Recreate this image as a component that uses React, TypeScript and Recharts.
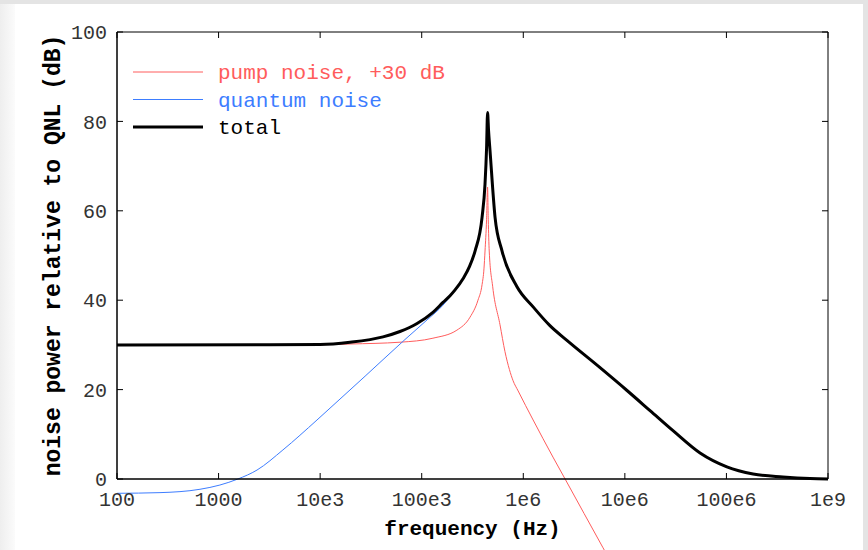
import React from "react";
import { LineChart, Line, XAxis, YAxis, Legend } from "recharts";

// pump noise (+30 dB offset)
const pumpFreq = [100, 1e4, 1.97e4, 6.11e4, 1.29e5, 2.22e5, 2.99e5, 3.58e5, 3.93e5, 4.1e5, 4.2e5, 4.35e5, 4.45e5, 4.52e5, 4.62e5, 5.0e5, 5.9e5, 6.6e5, 7.3e5, 7.93e5, 8.9e5, 1.25e6, 1.96e6, 2.58e6, 6.1e6, 7.48e6];
const pumpDb = [30, 30.05, 30.2, 30.6, 31.5, 33.3, 36.2, 40, 43.5, 47, 51, 58, 65.3, 58, 51, 43, 34.5, 28.5, 24.5, 22, 19.7, 13.2, 4.9, 0, -15.4, -19];

// quantum noise (runs under the total curve after ~2e5 Hz)
const quantumFreq = [100, 265, 656, 1030, 1550, 2390, 4300, 9310, 1.68e4, 2.77e4, 4.16e4, 6.84e4, 1.13e5, 1.62e5, 2.13e5, 2.55e5, 2.95e5, 3.35e5, 3.93e5, 4.2e5, 4.35e5, 4.45e5, 4.55e5, 4.7e5, 5.27e5, 6.18e5, 8.67e5, 1.25e6, 1.83e6, 2.69e6, 5.7e6, 1.05e7, 1.77e7, 2.98e7, 5.5e7, 1.01e8, 1.83e8, 3.6e8, 6.65e8, 1e9];
const quantumDb = [-3.2, -3.05, -2.3, -1.35, 0, 2.0, 6.5, 13.2, 18.5, 23.0, 26.7, 31.2, 35.6, 38.9, 42.3, 44.8, 47.5, 51, 58.6, 66, 74, 82, 78, 73.6, 58.6, 51, 43, 38.5, 34.3, 31.0, 24.9, 19.8, 15.3, 10.8, 5.8, 2.7, 1.1, 0.45, 0.1, 0.02];

// total
const totalFreq = [100, 1e4, 1.97e4, 4.16e4, 6.11e4, 9e4, 1.29e5, 1.62e5, 1.9e5, 2.13e5, 2.55e5, 2.95e5, 3.35e5, 3.93e5, 4.2e5, 4.35e5, 4.45e5, 4.55e5, 4.7e5, 5.27e5, 6.18e5, 8.67e5, 1.25e6, 1.83e6, 2.69e6, 5.7e6, 1.05e7, 1.77e7, 2.98e7, 5.5e7, 1.01e8, 1.83e8, 3.6e8, 6.65e8, 1e9];
const totalDb = [30, 30.1, 30.6, 31.8, 33, 34.8, 37.3, 39.5, 41, 42.3, 44.8, 47.5, 51, 58.6, 66, 74, 82, 78, 73.6, 58.6, 51, 43, 38.5, 34.3, 31.0, 24.9, 19.8, 15.3, 10.8, 5.8, 2.7, 1.1, 0.45, 0.1, 0.02];

const xTicks = [100, 1e3, 1e4, 1e5, 1e6, 1e7, 1e8, 1e9];
const xTickLabels = ["100", "1000", "10e3", "100e3", "1e6", "10e6", "100e6", "1e9"];
const yTicks = [0, 20, 40, 60, 80, 100];

const seriesNames = ["pump noise, +30 dB", "quantum noise", "total"];
const seriesColors = ["#ff5c5c", "#3d7dff", "#000000"];
const seriesWidths = [1, 1, 3];

const FONT = '"Liberation Mono", "Courier New", monospace';

const zip = (fs: number[], vs: number[]) => fs.map((f, i) => ({ f, v: vs[i] }));
const pumpData = zip(pumpFreq, pumpDb);
const quantumData = zip(quantumFreq, quantumDb);
const totalData = zip(totalFreq, totalDb);

const tickStyle = { fontFamily: FONT, fontSize: 20, fill: "#333" };
const axisLine = { stroke: "#000", strokeWidth: 1 };
const noLabel = () => "";

const renderLegend = () => (
  <svg width={330} height={95}>
    {seriesNames.map((name, i) => {
      const y = 22 + i * 27.5;
      return (
        <g key={name}>
          <line x1={0} x2={70} y1={y} y2={y} stroke={seriesColors[i]} strokeWidth={seriesWidths[i]} />
          <text x={85} y={y + 7} fontFamily={FONT} fontSize={21} fill={seriesColors[i]}>
            {name}
          </text>
        </g>
      );
    })}
  </svg>
);

export default function App() {
  return (
    <div style={{ position: "absolute", left: 0, top: 0, width: 868, height: 550, background: "#e4e4e4", overflow: "hidden" }}>
      <style>{`.recharts-line [clip-path], .recharts-line[clip-path] { clip-path: none !important; }`}</style>
      <div style={{ position: "absolute", left: 0, top: 4, width: 15, height: 546, background: "linear-gradient(to right, #eeeeee, #fbfbfb)" }} />
      <div style={{ position: "absolute", left: 15, top: 4, width: 848, height: 546, background: "#fff" }} />
      <div style={{ position: "absolute", left: 0, top: 0 }}>
        <LineChart width={868} height={550} margin={{ top: 32, right: 40, bottom: 11, left: 42 }}>
          {/* labelled axes */}
          <XAxis
            dataKey="f"
            type="number"
            scale="log"
            domain={[100, 1e9]}
            allowDataOverflow
            ticks={xTicks}
            interval={0}
            tickFormatter={(v: number) => xTickLabels[xTicks.indexOf(v)] ?? String(v)}
            tick={tickStyle}
            tickLine={false}
            tickSize={0}
            tickMargin={13}
            axisLine={axisLine}
            height={60}
            label={{ value: "frequency (Hz)", position: "insideBottom", offset: 4, style: { fontFamily: FONT, fontSize: 21, fontWeight: "bold", fill: "#000" } }}
          />
          <YAxis
            type="number"
            domain={[0, 100]}
            allowDataOverflow
            ticks={yTicks}
            interval={0}
            tick={tickStyle}
            tickLine={false}
            tickSize={0}
            tickMargin={10}
            axisLine={axisLine}
            width={75}
            label={{ value: "noise power relative to QNL (dB)", angle: -90, position: "insideLeft", offset: 10, style: { textAnchor: "middle", fontFamily: FONT, fontSize: 23, fontWeight: "bold", fill: "#000" } }}
          />
          {/* mirrored axes for the inward tick marks on all four sides */}
          <XAxis xAxisId="xb" orientation="bottom" mirror dataKey="f" type="number" scale="log" domain={[100, 1e9]} allowDataOverflow ticks={xTicks} interval={0} tickFormatter={noLabel} tickSize={6} tickLine={{ stroke: "#000" }} axisLine={axisLine} />
          <XAxis xAxisId="xt" orientation="top" mirror dataKey="f" type="number" scale="log" domain={[100, 1e9]} allowDataOverflow ticks={xTicks} interval={0} tickFormatter={noLabel} tickSize={6} tickLine={{ stroke: "#000" }} axisLine={axisLine} />
          <YAxis yAxisId="yl" orientation="left" mirror type="number" domain={[0, 100]} allowDataOverflow ticks={yTicks} interval={0} tickFormatter={noLabel} tickSize={6} tickLine={{ stroke: "#000" }} axisLine={axisLine} />
          <YAxis yAxisId="yr" orientation="right" mirror type="number" domain={[0, 100]} allowDataOverflow ticks={yTicks} interval={0} tickFormatter={noLabel} tickSize={6} tickLine={{ stroke: "#000" }} axisLine={axisLine} />
          <Legend
            layout="horizontal"
            verticalAlign="middle"
            align="center"
            content={renderLegend}
            wrapperStyle={{ position: "absolute", left: 133, top: 50, width: 330, height: 95 }}
          />
          <Line data={pumpData} dataKey="v" name={seriesNames[0]} type="monotone" stroke={seriesColors[0]} strokeWidth={1} dot={false} activeDot={false} isAnimationActive={false} />
          <Line data={quantumData} dataKey="v" name={seriesNames[1]} type="monotone" stroke={seriesColors[1]} strokeWidth={1} dot={false} activeDot={false} isAnimationActive={false} />
          <Line data={totalData} dataKey="v" name={seriesNames[2]} type="monotone" stroke={seriesColors[2]} strokeWidth={3} dot={false} activeDot={false} isAnimationActive={false} />
        </LineChart>
      </div>
    </div>
  );
}
